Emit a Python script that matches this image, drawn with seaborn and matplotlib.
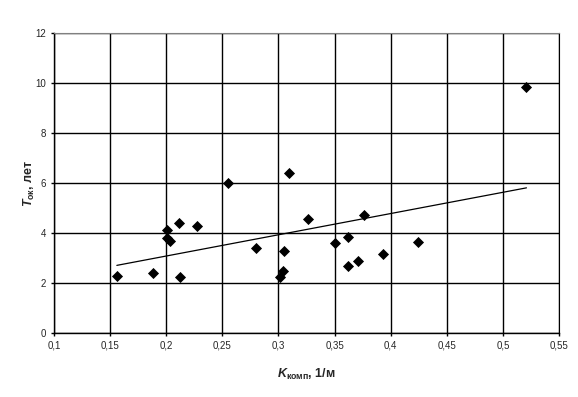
import matplotlib
matplotlib.use("Agg")
from matplotlib import pyplot as plt
import seaborn as sns
import pandas as pd

# K_komp, 1/m  and  T_ok, years
k_komp = [0.156, 0.188, 0.201, 0.201, 0.203, 0.211, 0.227, 0.212, 0.255,
          0.280, 0.301, 0.304, 0.305, 0.309, 0.326, 0.350, 0.362, 0.362,
          0.371, 0.376, 0.393, 0.424, 0.521]
t_ok = [2.28, 2.40, 4.12, 3.79, 3.69, 4.39, 4.29, 2.25, 5.99,
        3.39, 2.25, 2.49, 3.27, 6.39, 4.55, 3.59, 3.83, 2.67,
        2.87, 4.71, 3.15, 3.63, 9.84]

x_ticks = [0.1, 0.15, 0.2, 0.25, 0.3, 0.35, 0.4, 0.45, 0.5, 0.55]
x_tick_labels = ["0,1", "0,15", "0,2", "0,25", "0,3", "0,35", "0,4", "0,45", "0,5", "0,55"]
y_ticks = [0, 2, 4, 6, 8, 10, 12]
y_tick_labels = ["0", "2", "4", "6", "8", "10", "12"]


def main():
    sns.set_style("white")
    plt.rcParams['font.family'] = ['Liberation Sans', 'DejaVu Sans']
    plt.rcParams['mathtext.fontset'] = 'custom'
    plt.rcParams['mathtext.rm'] = 'Liberation Sans:bold'
    plt.rcParams['mathtext.it'] = 'Liberation Sans:italic:bold'

    df = pd.DataFrame({"k": k_komp, "t": t_ok})

    fig = plt.figure(figsize=(5.78, 3.97), dpi=100)
    ax = fig.add_axes([54 / 578, 1 - 333 / 397, 505 / 578, 300 / 397])

    # trend line (linear fit over the data range)
    sns.regplot(data=df, x="k", y="t", scatter=False, ci=None, truncate=True,
                color="black", line_kws={"linewidth": 0.9}, ax=ax)
    sns.scatterplot(data=df, x="k", y="t", marker="D", s=32, color="black",
                    edgecolor="black", linewidth=0, zorder=3, ax=ax)

    ax.set_xlim(0.1, 0.55)
    ax.set_ylim(0, 12)
    ax.set_xticks(x_ticks)
    ax.set_xticklabels(x_tick_labels, fontsize=7)
    ax.set_yticks(y_ticks)
    ax.set_yticklabels(y_tick_labels, fontsize=7)
    ax.grid(True, color="black", linewidth=1.0)
    ax.set_axisbelow(True)
    ax.tick_params(axis="both", direction="out", length=2.5, width=1,
                   color="black", pad=3, bottom=True, left=True)

    for side in ["left", "bottom"]:
        ax.spines[side].set_color("black")
        ax.spines[side].set_linewidth(1.0)
    ax.spines["top"].set_color("#808080")
    ax.spines["right"].set_color("black")

    ax.set_xlabel(r"$\mathit{K}_{\mathrm{комп}}$, 1/м", fontsize=9,
                  fontweight="bold", labelpad=12)
    ax.set_ylabel(r"$\mathit{T}_{\mathrm{ок}}$, лет", fontsize=9,
                  fontweight="bold", labelpad=-1)

    fig.savefig("out.png", dpi=100)


if __name__ == "__main__":
    main()
